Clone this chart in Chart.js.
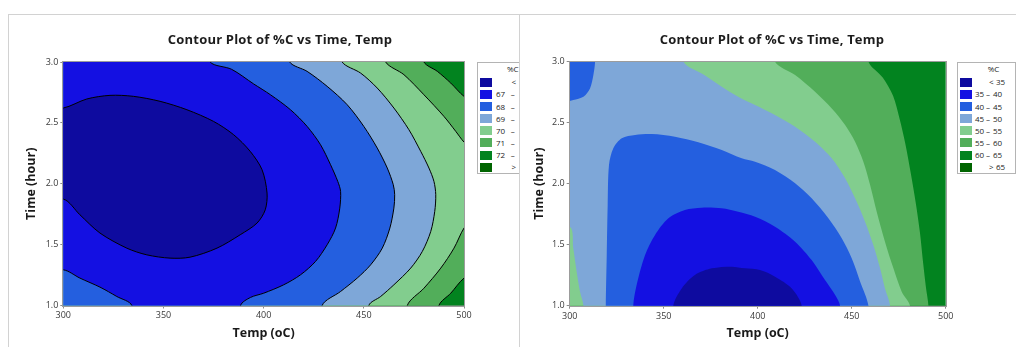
<!DOCTYPE html>
<html>
<head>
<meta charset="utf-8">
<script src="https://cdn.jsdelivr.net/npm/chart.js@4.4.1/dist/chart.umd.min.js"></script>
<style>
  html, body { margin: 0; padding: 0; background: #fff; }
  body { position: relative; width: 1016px; height: 347px; overflow: hidden; font-family: "Open Sans", "Noto Sans", sans-serif; }
  .panel { position: absolute; top: 14px; height: 340px; border-top: 1px solid #d2d2d2; border-left: 1px solid #d2d2d2; background: #fff; }
  #panelL { left: 8px; width: 640px; z-index: 1; }
  #panelR { left: 519px; width: 520px; z-index: 2; }
  .panel canvas { position: absolute; left: 0; top: 0; }
  .title { position: absolute; top: 16px; height: 16px; line-height: 16px; font-size: 13px; letter-spacing: 0.2px; font-weight: bold; color: #1c1c1c; white-space: nowrap; transform: translateX(-50%); }
  .legend { position: absolute; top: 47px; height: 112px; box-sizing: border-box; border: 1px solid #b4b4b4; font-size: 8px; color: #222; background: #fff; }
  .legend span { position: absolute; line-height: 10px; height: 10px; white-space: nowrap; }
  .legend i { position: absolute; width: 12px; height: 9px; }
</style>
</head>
<body>
<div class="panel" id="panelL">
  <canvas id="chartLeft" width="470" height="332"></canvas>
  <div class="title" style="left:271px">Contour Plot of %C vs Time, Temp</div>
  <div class="legend" id="legendLeft" style="left:468px; width:60px"></div>
</div>
<div class="panel" id="panelR">
  <canvas id="chartRight" width="440" height="332"></canvas>
  <div class="title" style="left:252px">Contour Plot of %C vs Time, Temp</div>
  <div class="legend" id="legendRight" style="left:437px; width:59px"></div>
</div>
<script>
// axis ticks
const tempTicks = [300, 350, 400, 450, 500];
const timeTicks = [1.0, 1.5, 2.0, 2.5, 3.0];

// contour level breaks (%C)
const leftBreaks = [67, 68, 69, 70, 71, 72, 73];
const rightBreaks = [35, 40, 45, 50, 55, 60, 65];

// colours of the 8 bands, lowest first
const bandColors = ["#0e0b9f", "#1410e2", "#245fdf", "#7ea7d8", "#82cd8e", "#52ae5a", "#02831f", "#006400"];

// contour rings as [Temp, Time]
// left plot: 67 .. 73
const leftBand72 = [[280, 0.7], [520, 0.7], [520, 3.2]];
const leftBelow72 = [[280, 0.7], [486, 0.7], [487.5, 1.0], [493.4, 1.101], [500, 1.225], [510, 1.32], [510, 2.62], [500, 2.718], [493.4, 2.827], [486.7, 2.923], [480, 3.0], [478, 3.2]];
const leftBelow71 = [[280, 0.7], [471, 0.7], [471.7, 1.0], [480, 1.142], [488.4, 1.307], [495, 1.471], [500, 1.636], [506, 1.75], [506, 2.25], [500, 2.342], [495.9, 2.43], [490, 2.553], [480, 2.731], [470, 2.896], [460.9, 3.0], [459, 3.2]];
const leftBelow70 = [[280, 0.7], [452, 0.7], [452.5, 1.0], [458.4, 1.074], [465, 1.17], [473.4, 1.307], [479.2, 1.444], [483.4, 1.608], [485.4, 1.773], [485.9, 1.91], [485, 2.019], [482.5, 2.129], [478.4, 2.266], [472.5, 2.444], [465, 2.622], [456.7, 2.786], [448.4, 2.909], [439.2, 3.0], [437, 3.2]];
const leftBelow69 = [[280, 0.7], [429, 0.7], [429.2, 1.0], [438.4, 1.115], [446.7, 1.225], [453.4, 1.334], [459.2, 1.471], [463, 1.636], [465, 1.8], [465.4, 1.91], [464.7, 1.992], [461.7, 2.129], [456.7, 2.293], [450, 2.471], [441.7, 2.649], [431.7, 2.8], [421.7, 2.923], [413, 3.0], [411, 3.2]];
const leftBelow68 = [[280, 1.28], [300, 1.293], [308.3, 1.225], [318.3, 1.151], [326.7, 1.074], [334.2, 1.0], [335, 0.7], [388, 0.7], [388.5, 1.0], [393.4, 1.066], [400, 1.101], [410, 1.17], [418.4, 1.252], [425.9, 1.362], [431.7, 1.499], [435.9, 1.636], [438, 1.8], [438.4, 1.937], [437, 2.019], [433.4, 2.156], [428.4, 2.32], [421.7, 2.471], [413.4, 2.608], [403.4, 2.731], [395, 2.82], [384, 2.94], [373.3, 3.0], [371, 3.2]];
const leftBelow67 = [[280, 1.86], [300, 1.874], [308.3, 1.745], [318.3, 1.595], [331.7, 1.471], [341.7, 1.416], [353.3, 1.389], [363.3, 1.397], [376.7, 1.471], [388.3, 1.581], [396.7, 1.677], [400.8, 1.786], [401.7, 1.923], [399.2, 2.115], [393.3, 2.266], [385, 2.403], [375, 2.512], [361.7, 2.608], [348.3, 2.677], [335, 2.718], [323.3, 2.726], [311.7, 2.696], [300, 2.622], [280, 2.6]];

// right plot: 35 .. 65
const rightBand60 = [[280, 0.7], [520, 0.7], [520, 3.2]];
const rightBelow60 = [[280, 0.7], [490.8, 0.7], [490.8, 1.0], [489.5, 1.15], [488, 1.35], [486.3, 1.6], [484, 1.85], [481.5, 2.08], [478.5, 2.33], [475.5, 2.53], [472, 2.72], [466.5, 2.87], [458.9, 3.0], [458.9, 3.2]];
const rightBelow55 = [[280, 0.7], [481, 0.7], [481, 1.0], [476.6, 1.115], [472.2, 1.306], [467.7, 1.525], [463.3, 1.77], [459.8, 1.989], [456.2, 2.18], [451.8, 2.344], [446.5, 2.481], [439.4, 2.617], [430.5, 2.754], [419.9, 2.891], [409.2, 3.0], [409.2, 3.2]];
const rightBelow50 = [[280, 1.648], [300, 1.648], [301.9, 1.47], [303.7, 1.279], [305.5, 1.115], [307.3, 1.0], [307.3, 0.7], [470.4, 0.7], [470.4, 1.0], [467.7, 1.142], [465.1, 1.306], [461.5, 1.497], [457.1, 1.689], [451.8, 1.88], [446.5, 2.044], [439.4, 2.208], [430.5, 2.344], [419.9, 2.467], [409.2, 2.563], [398.6, 2.645], [392.9, 2.686], [382.3, 2.781], [371.6, 2.891], [360.5, 3.0], [360.5, 3.2]];
const rightBelow45 = [[280, 0.7], [319.2, 0.7], [319.2, 1.0], [319.7, 1.415], [320.2, 1.825], [320.9, 2.153], [323.2, 2.29], [327.7, 2.372], [334.8, 2.399], [343.6, 2.407], [356, 2.385], [368.4, 2.339], [380.9, 2.276], [391.5, 2.208], [398.6, 2.18], [409.2, 2.112], [419.9, 2.003], [428.7, 1.88], [437.6, 1.716], [444.7, 1.552], [450, 1.388], [454.5, 1.197], [458.9, 1.0], [459, 0.7], [280, 0.69]];
const rightCorner45 = [[280, 2.678], [300, 2.678], [301.9, 2.686], [307.3, 2.713], [310.8, 2.781], [312.6, 2.891], [313.5, 3.0], [313.5, 3.2]];
const rightBelow40 = [[280, 0.7], [333.8, 0.7], [333.8, 1.0], [335.6, 1.169], [340.1, 1.415], [345.4, 1.579], [352.5, 1.716], [361.3, 1.784], [370.2, 1.803], [380.8, 1.798], [389.6, 1.77], [398.6, 1.73], [409.2, 1.648], [419.9, 1.525], [428.7, 1.374], [435.8, 1.21], [441.2, 1.087], [443.8, 1.0], [444, 0.7], [280, 0.69]];
const rightBelow35 = [[280, 0.7], [355.1, 0.7], [355.1, 1.0], [359.6, 1.142], [366.6, 1.251], [375.6, 1.306], [386.2, 1.32], [393.1, 1.306], [401.2, 1.292], [409.2, 1.238], [418.1, 1.142], [423.4, 1.0], [423.5, 0.7], [280, 0.69]];

// close a ring outside the frame, so the fill starts left and ends right of it
const closeRing = (ring) => [[280, 3.3], ...ring, [275, 3.25], [520, 3.25]];

Chart.defaults.font.family = "'Open Sans', 'Noto Sans', sans-serif";

// grey frame round the plot area
const frame = {
  id: "frame",
  afterDatasetsDraw(chart) {
    const { ctx, chartArea: a } = chart;
    ctx.save();
    ctx.strokeStyle = "#9c9c9c";
    ctx.lineWidth = 1;
    ctx.strokeRect(Math.round(a.left) - 0.5, Math.round(a.top) - 0.5, Math.round(a.right - a.left) + 1, Math.round(a.bottom - a.top) + 1);
    ctx.restore();
  },
};

const makeContour = (canvasId, regions, lines, sizes) => {
  const datasets = regions.map((r, i) => ({
    data: closeRing(r.ring).map(([x, y]) => ({ x, y })),
    fill: "shape",
    backgroundColor: r.color,
    borderColor: lines && i > 0 ? "#000" : "transparent",
    borderWidth: lines && i > 0 ? 1 : 0,
    pointRadius: 0,
    tension: 0.3,
    clip: 0,
    order: regions.length - i,
  }));

  return new Chart(document.getElementById(canvasId), {
    type: "line",
    data: { datasets },
    options: {
      responsive: false,
      animation: false,
      events: [],
      layout: { padding: { left: 0, right: sizes.right, top: sizes.top, bottom: 0 } },
      plugins: { legend: { display: false }, tooltip: { enabled: false } },
      scales: {
        x: {
          type: "linear",
          min: 300,
          max: 500,
          afterBuildTicks: (s) => { s.ticks = tempTicks.map((v) => ({ value: v })); },
          afterFit: (s) => { s.height = sizes.xHeight; },
          ticks: { font: { size: 9 }, color: "#3a3a3a", padding: 2, maxRotation: 0, autoSkip: false },
          grid: { drawOnChartArea: false, tickLength: 3, color: "#8c8c8c" },
          border: { color: "#9c9c9c" },
          title: { display: true, text: "Temp (oC)", color: "#1a1a1a", font: { size: 12.5, weight: "bold" }, padding: { top: 0, bottom: 6.5 } },
        },
        y: {
          type: "linear",
          min: 1,
          max: 3,
          afterBuildTicks: (s) => { s.ticks = timeTicks.map((v) => ({ value: v })); },
          afterFit: (s) => { s.width = sizes.yWidth; },
          ticks: { font: { size: 9 }, color: "#3a3a3a", padding: 2, autoSkip: false, callback: (v) => Number(v).toFixed(1) },
          grid: { drawOnChartArea: false, tickLength: 3, color: "#8c8c8c" },
          border: { color: "#9c9c9c" },
          title: { display: true, text: "Time (hour)", color: "#1a1a1a", font: { size: 12.5, weight: "bold" }, padding: { top: sizes.yTitle, bottom: 0 } },
        },
      },
    },
    plugins: [frame],
  });
};

makeContour("chartLeft", [
  { ring: leftBand72, color: bandColors[6] },
  { ring: leftBelow72, color: bandColors[5] },
  { ring: leftBelow71, color: bandColors[4] },
  { ring: leftBelow70, color: bandColors[3] },
  { ring: leftBelow69, color: bandColors[2] },
  { ring: leftBelow68, color: bandColors[1] },
  { ring: leftBelow67, color: bandColors[0] },
], true, { right: 15, top: 47, xHeight: 41.5, yWidth: 54.3, yTitle: 14.5 });

makeContour("chartRight", [
  { ring: rightBand60, color: bandColors[6] },
  { ring: rightBelow60, color: bandColors[5] },
  { ring: rightBelow55, color: bandColors[4] },
  { ring: rightBelow50, color: bandColors[3] },
  { ring: rightBelow45, color: bandColors[2] },
  { ring: rightCorner45, color: bandColors[2] },
  { ring: rightBelow40, color: bandColors[1] },
  { ring: rightBelow35, color: bandColors[0] },
], false, { right: 14.3, top: 46.7, xHeight: 41.3, yWidth: 49.7, yTitle: 12.2 });

// legends
const buildLegend = (el, breaks, cols) => {
  const rows = [["", "<", breaks[0]]];
  for (let i = 1; i < breaks.length; i++) rows.push([breaks[i - 1], "–", breaks[i]]);
  rows.push(["", ">", breaks[breaks.length - 1]]);

  const add = (text, left, top, center) => {
    const s = document.createElement("span");
    s.textContent = text;
    s.style.left = left + "px";
    s.style.top = top + "px";
    if (center) s.style.transform = "translateX(-50%)";
    el.appendChild(s);
  };

  add("%C", cols.title, 0.5, true);
  rows.forEach(([lo, mid, hi], i) => {
    const sw = document.createElement("i");
    sw.style.left = "2px";
    sw.style.top = 14.7 + i * 12.15 + "px";
    sw.style.background = bandColors[i];
    el.appendChild(sw);
    const top = 14.2 + i * 12.15;
    if (lo === "") {
      add(mid, cols.sym, top, true);
      add(String(hi), cols.symNum, top, false);
    } else {
      add(String(lo), cols.lo, top, false);
      add(mid, cols.dash, top, true);
      add(String(hi), cols.hi, top, false);
    }
  });
};

buildLegend(document.getElementById("legendLeft"), leftBreaks, { title: 34.8, lo: 18, dash: 34.7, hi: 43, sym: 35.8, symNum: 43 });
buildLegend(document.getElementById("legendRight"), rightBreaks, { title: 35.5, lo: 17, dash: 30, hi: 35, sym: 33.3, symNum: 38 });
</script>
</body>
</html>
